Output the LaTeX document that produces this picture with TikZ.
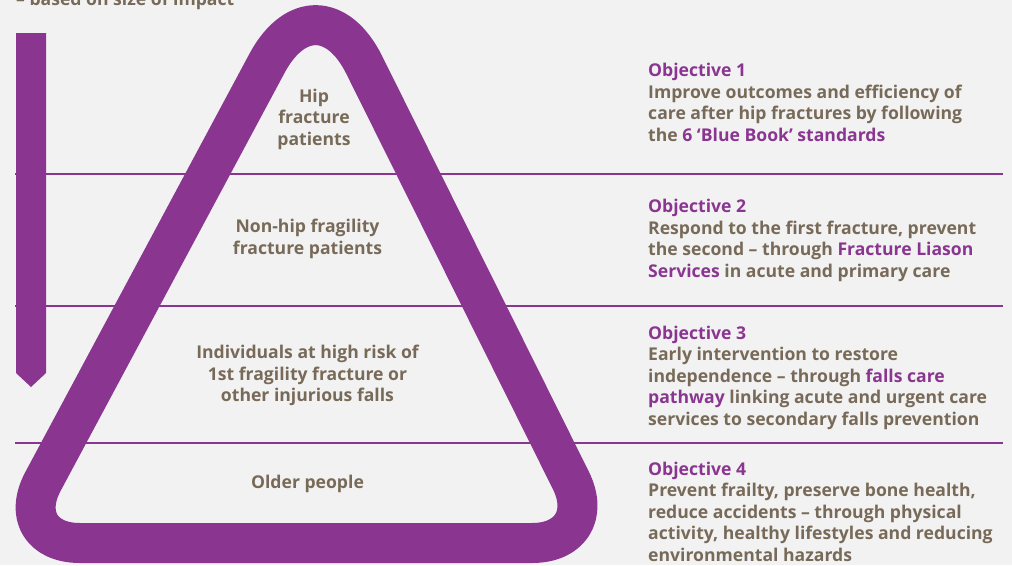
\documentclass[tikz,border=0pt]{standalone}
\usepackage{fontspec}
\setmainfont{Open Sans}
\definecolor{plum}{HTML}{8A3691}
\definecolor{taupe}{HTML}{786A58}
\definecolor{paper}{HTML}{F2F2F2}
\begin{document}
\begin{tikzpicture}[x=1pt,y=-1pt,
  txt/.style={inner sep=0pt,text=taupe,font=\fontsize{17.6}{21.5}\selectfont\bfseries},
  objtxt/.style={txt,anchor=base west,align=left},
  tritxt/.style={txt,anchor=base,align=center},
  divider/.style={draw=plum,line width=2pt},
  band/.style={draw=plum,line width=40pt,line join=round}]
\newcommand{\hl}[1]{\textcolor{plum}{#1}}
\useasboundingbox[fill=paper] (0,0) rectangle (1012,565);

% caption above the figure (its upper part lies above the page)
\node[txt,anchor=base west] (cap) at (16,5) {– based on size of impact};

% dividers between the four levels
\coordinate (d1a) at (15,174);  \coordinate (d1b) at (1003,174);
\coordinate (d2a) at (15,305.5);\coordinate (d2b) at (1003,305.5);
\coordinate (d3a) at (15,443);  \coordinate (d3b) at (1003,443);
\draw[divider] (d1a) -- (d1b);
\draw[divider] (d2a) -- (d2b);
\draw[divider] (d3a) -- (d3b);

% downward arrow bar
\fill[plum] (16,33) -- (46,33) -- (46,373) -- (31,387) -- (16,373) -- cycle;

% pyramid outline
\coordinate (apex) at (317,-30);
\coordinate (bl) at (10,543);
\coordinate (br) at (602,543);
\coordinate (bm) at (306,543);
\draw[band] (bm) [rounded corners=70pt] -- (br) [rounded corners=106pt] -- (apex)
  [rounded corners=70pt] -- (bl) -- cycle;

% level labels (anchored at the baseline of their last line)
\node[tritxt] (hip) at (314,145) {Hip\\fracture\\patients};
\node[tritxt] (nonhip) at (307.5,254) {Non-hip fragility\\fracture patients};
\node[tritxt] (risk) at (307.5,401.5) {Individuals at high risk of\\1st fragility fracture or\\other injurious falls};
\node[tritxt] (older) at (307.5,488) {Older people};

% objectives (anchored at the baseline of their last line)
\node[objtxt] (o1) at (648,141) {\hl{Objective 1}\\Improve outcomes and efficiency of\\care after hip fractures by following\\the \hl{6 ‘Blue Book’ standards}};
\node[objtxt] (o2) at (648,277) {\hl{Objective 2}\\Respond to the first fracture, prevent\\the second – through \hl{Fracture Liason}\\\hl{Services} in acute and primary care};
\node[objtxt] (o3) at (648,425) {\hl{Objective 3}\\Early intervention to restore\\independence – through \hl{falls care}\\\hl{pathway} linking acute and urgent care\\services to secondary falls prevention};
\node[objtxt] (o4) at (648,561) {\hl{Objective 4}\\Prevent frailty, preserve bone health,\\reduce accidents – through physical\\activity, healthy lifestyles and reducing\\environmental hazards};
\end{tikzpicture}
\end{document}
